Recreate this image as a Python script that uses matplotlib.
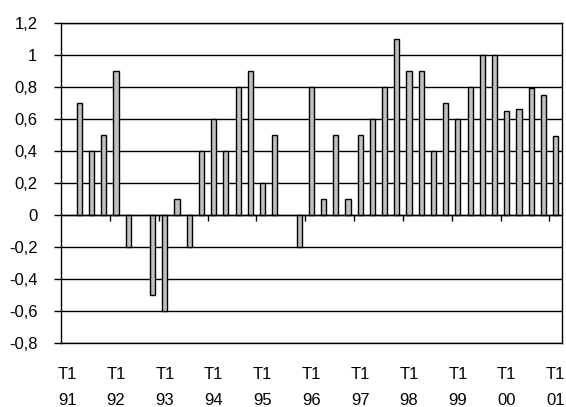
import numpy as np
import matplotlib.pyplot as plt
from matplotlib.transforms import blended_transform_factory

plt.rcParams['font.family'] = ['Liberation Sans', 'DejaVu Sans']

# trimestres T1 1991 .. T1 2001
years = ['91', '92', '93', '94', '95', '96', '97', '98', '99', '00', '01']
values = [np.nan, 0.7, 0.4, 0.5, 0.9, -0.2, np.nan, -0.5,
          -0.6, 0.1, -0.2, 0.4, 0.6, 0.4, 0.8, 0.9,
          0.2, 0.5, np.nan, -0.2, 0.8, 0.1, 0.5, 0.1,
          0.5, 0.6, 0.8, 1.1, 0.9, 0.9, 0.4, 0.7,
          0.6, 0.8, 1.0, 1.0, 0.65, 0.66, 0.79, 0.75,
          0.49]
yticks = [-0.8, -0.6, -0.4, -0.2, 0, 0.2, 0.4, 0.6, 0.8, 1, 1.2]

n = len(values)
x = np.arange(n)
fs = 12

fig = plt.figure(figsize=(5.66, 4.07), dpi=100)
ax = fig.add_axes([0.1078, 0.1568, 0.8846, 0.7875])

ax.bar(x, values, width=0.42, color='#c0c0c0', edgecolor='black',
       linewidth=1.0, zorder=3)

ax.set_xlim(-0.5, n - 0.5)
ax.set_ylim(-0.8, 1.2)
ax.set_yticks(yticks)
ax.set_yticklabels([('%g' % v).replace('.', ',') for v in yticks], fontsize=fs)
ax.yaxis.grid(True, color='black', linewidth=1.0, zorder=0)
ax.tick_params(axis='y', direction='out', length=5, width=1, pad=12)

# axe des abscisses sur la ligne zéro, graduations tous les 4 trimestres
for s in ax.spines.values():
    s.set_linewidth(1.0)
ax.spines['bottom'].set_position(('data', 0))
ax.spines['bottom'].set_zorder(4)
ax.set_xticks(np.arange(4, n, 4) - 0.5)
ax.set_xticklabels([])
ax.tick_params(axis='x', direction='out', length=4, width=1)
ax.axhline(-0.8, color='black', linewidth=1.0, clip_on=False)

trans = blended_transform_factory(ax.transData, ax.transAxes)
for k, yr in enumerate(years):
    ax.text(4 * k, -0.098, 'T1', transform=trans, ha='center', va='center',
            fontsize=fs)
    ax.text(4 * k, -0.178, yr, transform=trans, ha='center', va='center',
            fontsize=fs)

fig.savefig('out.png', dpi=100)
